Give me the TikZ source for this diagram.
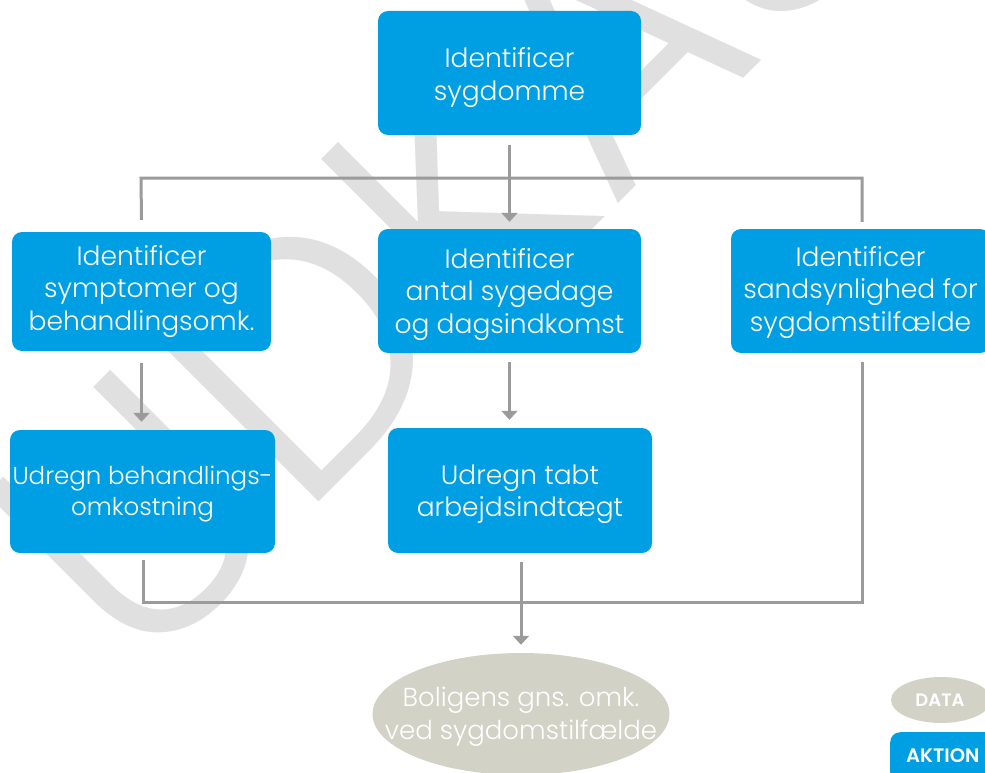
\documentclass[tikz,border=0pt]{standalone}
\usepackage{fontspec}
\setmainfont{Poppins Light}
\newfontfamily\boldsans{Poppins SemiBold}
\usetikzlibrary{arrows.meta,shapes.geometric,calc}
\definecolor{actblue}{HTML}{009FE3}
\definecolor{datagray}{HTML}{D2D2C7}
\definecolor{linegray}{HTML}{9B9B9B}
\definecolor{wmgray}{HTML}{E0E0E0}
\begin{document}
\begin{tikzpicture}[x=1pt,y=-1pt,
  action/.style={fill=actblue, rounded corners=10pt, inner sep=0pt},
  acttext/.style={text=white, align=center, inner sep=0pt, font=\fontsize{26.5}{32.5}\selectfont},
  data/.style={ellipse, fill=datagray, inner sep=0pt},
  datatext/.style={text=white, align=center, inner sep=0pt, font=\fontsize{26}{33}\selectfont},
  conn/.style={draw=linegray, line width=3pt},
  arr/.style={conn, -{Triangle[width=16pt,length=9pt]}}]
\useasboundingbox (0,0) rectangle (985,773);
% watermark
\node[text=wmgray, rotate=45, font=\fontsize{345}{345}\selectfont, inner sep=0pt] (wm) at (502,149) {UDKAST};
% boxes
\node[action, minimum width=263pt, minimum height=124pt] (top) at (509.5,73) {};
\node[action, minimum width=259pt, minimum height=119pt] (n1) at (141.5,291.5) {};
\node[action, minimum width=263pt, minimum height=124pt] (n2) at (509.5,291) {};
\node[action, minimum width=259pt, minimum height=124pt] (n3) at (860.5,291) {};
\node[action, minimum width=265pt, minimum height=123pt] (n4) at (142.5,491.5) {};
\node[action, minimum width=264pt, minimum height=125pt] (n5) at (520,490.5) {};
\node[data, minimum width=297pt, minimum height=122pt] (res) at (521,714) {};
\node[data, minimum width=100pt, minimum height=46pt] (ldata) at (941,700) {};
\node[action, minimum width=110pt, minimum height=50pt, anchor=north west] (lakt) at (890,732) {};
% texts
\node[acttext] (topt) at ([yshift=-4.5pt]top.center) {Identificer\\sygdomme};
\node[acttext] (n1t) at ([yshift=0pt]n1.center) {Identificer\\symptomer og\\behandlingsomk.};
\node[acttext] (n2t) at ([yshift=-3.5pt]n2.center) {Identificer\\antal sygedage\\og dagsindkomst};
\node[acttext] (n3t) at ([yshift=-1.5pt]n3.center) {Identificer\\sandsynlighed for\\sygdomstilfælde};
\node[acttext, font=\fontsize{24.5}{31}\selectfont] (n4t) at ([yshift=-2.5pt]n4.center) {Udregn behandlings-\\omkostning};
\node[acttext] (n5t) at ([yshift=-3.5pt]n5.center) {Udregn tabt\\arbejdsindtægt};
\node[datatext] (rest) at ([yshift=-3pt]res.center) {Boligens gns. omk.\\ved sygdomstilfælde};
\node[text=white, inner sep=0pt, font=\fontsize{18}{20}\boldsans] (ldatat) at ([xshift=-1pt]ldata.center) {DATA};
\node[text=white, anchor=base west, inner sep=0pt, font=\fontsize{19.5}{20}\boldsans] (laktt) at (906,762.5) {AKTION};
% junctions
\coordinate (splitL) at (141,178);
\coordinate (splitR) at (862,178);
\coordinate (joinL) at (143,602);
\coordinate (joinR) at (862,602);
% connectors
\draw[arr] ([yshift=-10pt]top.south) -- ([yshift=7pt]n2.north);
\draw[conn] ([yshift=12pt]n1.north) -- (splitL) -- (splitR) -- ([yshift=7pt]n3.north -| splitR);
\draw[arr] ([yshift=-12pt]n1.south) -- ([yshift=8pt]n4.north -| n1.south);
\draw[arr] ([yshift=-9pt]n2.south) -- ([yshift=8pt]n5.north -| n2.south);
\draw[conn] ([yshift=-9pt]n3.south -| splitR) -- (joinR) -- (joinL) -- ([yshift=-7pt]n4.south -| joinL);
\draw[arr] ([yshift=-9pt]n5.south -| res.north) -- ([yshift=8pt]res.north);
\end{tikzpicture}
\end{document}
